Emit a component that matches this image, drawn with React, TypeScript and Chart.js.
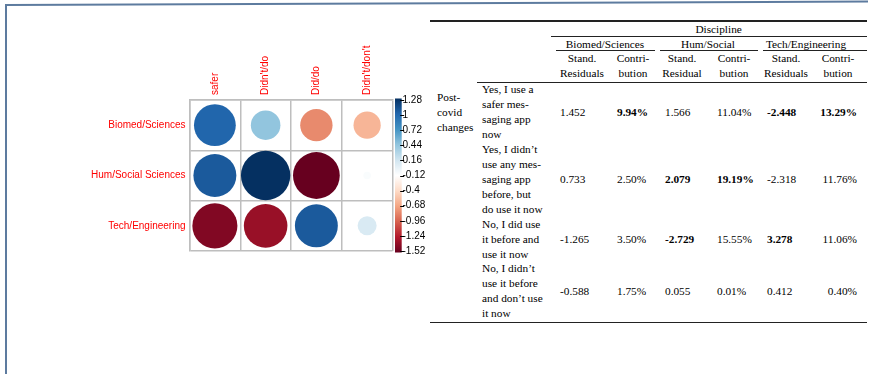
import React, { useEffect, useRef } from 'react';
import { Chart, registerables } from 'chart.js';
Chart.register(...registerables);

// ---------- corrplot data (Pearson residuals) ----------
const rowLabels = ['Biomed/Sciences', 'Hum/Social Sciences', 'Tech/Engineering'];
const colLabels = ['safer', "Didn't/do", 'Did/do', "Didn't/don't"];
const biomedResiduals = [0.92, 0.46, -0.55, -0.39];
const humResiduals = [0.97, 1.28, -1.15, 0.03];
const techResiduals = [-1.07, -1.0, 0.97, 0.19];
const colorbarMin = -1.52;
const colorbarMax = 1.28;
const colorbarTicks = [-1.52, -1.24, -0.96, -0.68, -0.4, -0.12, 0.16, 0.44, 0.72, 1, 1.28];

// ---------- table data ----------
const tableTitle = 'Discipline';
const rowGroupLabel = ['Post-', 'covid', 'changes'];
const groupHeaders = ['Biomed/Sciences', 'Hum/Social', 'Tech/Engineering'];
const subHeaders = [
  ['Stand.', 'Residuals'],
  ['Contri-', 'bution'],
  ['Stand.', 'Residual'],
  ['Contri-', 'bution'],
  ['Stand.', 'Residuals'],
  ['Contri-', 'bution'],
];
const answerLines = [
  ['Yes, I use a', 'safer mes-', 'saging app', 'now'],
  ['Yes, I didn’t', 'use any mes-', 'saging app', 'before, but', 'do use it now'],
  ['No, I did use', 'it before and', 'use it now'],
  ['No, I didn’t', 'use it before', 'and don’t use', 'it now'],
];
const stdResBiomed = ['1.452', '0.733', '-1.265', '-0.588'];
const contribBiomed = ['9.94%', '2.50%', '3.50%', '1.75%'];
const stdResHum = ['1.566', '2.079', '-2.729', '0.055'];
const contribHum = ['11.04%', '19.19%', '15.55%', '0.01%'];
const stdResTech = ['-2.448', '-2.318', '3.278', '0.412'];
const contribTech = ['13.29%', '11.76%', '11.06%', '0.40%'];
const boldFlags = [
  [false, true, false, false, true, true],
  [false, false, true, true, false, false],
  [false, false, true, false, true, false],
  [false, false, false, false, false, false],
];

const RDBU = ['#67001F', '#B2182B', '#D6604D', '#F4A582', '#FDDBC7', '#FFFFFF', '#D1E5F0', '#92C5DE', '#4393C3', '#2166AC', '#053061'];

function hexToRgb(h: string) {
  const n = parseInt(h.slice(1), 16);
  return [(n >> 16) & 255, (n >> 8) & 255, n & 255];
}
function paletteAt(t: number) {
  const c = Math.max(0, Math.min(1, t)) * (RDBU.length - 1);
  const i = Math.min(RDBU.length - 2, Math.floor(c));
  const f = c - i;
  const a = hexToRgb(RDBU[i]);
  const b = hexToRgb(RDBU[i + 1]);
  const m = a.map((v, k) => Math.round(v + (b[k] - v) * f));
  return `rgb(${m[0]},${m[1]},${m[2]})`;
}

const allValues = [...biomedResiduals, ...humResiduals, ...techResiduals];
const maxAbs = Math.max(...allValues.map((v) => Math.abs(v)));
const colorScale = Math.abs(Math.min(...allValues));

function colorFor(v: number) {
  const s = Math.max(-1, Math.min(1, v / colorScale));
  return paletteAt((s + 1) / 2);
}

const colorbarPlugin = {
  id: 'colorbar',
  afterDraw(chart: any) {
    const s = chart.scales.y2;
    const ctx = chart.ctx;
    const x0 = s.left + 2.5;
    const w = 6.7;
    const top = s.top - 1.5;
    const bottom = s.bottom + 1.5;
    const g = ctx.createLinearGradient(0, bottom, 0, top);
    RDBU.forEach((c, i) => g.addColorStop(i / (RDBU.length - 1), c));
    ctx.save();
    ctx.fillStyle = g;
    ctx.fillRect(x0, top, w, bottom - top);
    ctx.strokeStyle = '#000';
    ctx.lineWidth = 1;
    s.ticks.forEach((t: any) => {
      const y = Math.round(s.getPixelForValue(t.value)) + 0.5;
      ctx.beginPath();
      ctx.moveTo(x0 + w - 1.5, y);
      ctx.lineTo(x0 + w + 2.5, y);
      ctx.stroke();
    });
    ctx.restore();
  },
};

const SANS = "'Liberation Sans', Arial, sans-serif";
const SERIF = "'Liberation Serif', 'Times New Roman', serif";

function CorrPlot() {
  const ref = useRef<HTMLCanvasElement | null>(null);
  useEffect(() => {
    const rows = [biomedResiduals, humResiduals, techResiduals];
    const points: any[] = [];
    rows.forEach((vals, r) =>
      vals.forEach((v, c) => points.push({ x: colLabels[c], y: rowLabels[r], v }))
    );
    const gridColor = '#BEBEBE';
    const chart = new Chart(ref.current as HTMLCanvasElement, {
      type: 'scatter',
      data: {
        datasets: [
          {
            data: points,
            pointBorderWidth: 0,
            pointBackgroundColor: (ctx: any) => colorFor(ctx.raw ? ctx.raw.v : 0),
            pointRadius: (ctx: any) => {
              const xs = ctx.chart.scales.x;
              const cellW = xs.width / colLabels.length;
              const v = ctx.raw ? ctx.raw.v : 0;
              return cellW * 0.486 * Math.sqrt(Math.abs(v) / maxAbs);
            },
          } as any,
        ],
      },
      options: {
        animation: false,
        responsive: true,
        maintainAspectRatio: false,
        events: [],
        layout: { padding: { top: 0, left: 0, right: 0, bottom: 123 } },
        plugins: { legend: { display: false }, tooltip: { enabled: false } },
        scales: {
          x: {
            type: 'category',
            labels: colLabels,
            position: 'top',
            offset: true,
            grid: { offset: true, color: gridColor, lineWidth: 1.5, drawTicks: false },
            border: { color: gridColor, width: 1.5 },
            ticks: {
              color: '#FF0000',
              font: { family: SANS, size: 10, lineHeight: 0 },
              minRotation: 90,
              maxRotation: 90,
              padding: 5,
              autoSkip: false,
            },
            afterFit: (s: any) => {
              s.height = 100;
            },
          },
          y: {
            type: 'category',
            labels: rowLabels,
            position: 'left',
            offset: true,
            grid: { offset: true, color: gridColor, lineWidth: 1.5, drawTicks: false },
            border: { color: gridColor, width: 1.5 },
            ticks: { color: '#FF0000', font: { family: SANS, size: 10 }, padding: 4, autoSkip: false },
            afterFit: (s: any) => {
              s.width = 189.5;
            },
          },
          y2: {
            type: 'linear',
            position: 'right',
            min: colorbarMin,
            max: colorbarMax,
            grid: { display: false, drawTicks: false },
            border: { display: false },
            ticks: {
              color: '#000',
              font: { family: SANS, size: 10 },
              padding: 10,
              autoSkip: false,
              callback: (v: any) => String(Math.round(Number(v) * 100) / 100),
            },
            afterBuildTicks: (s: any) => {
              s.ticks = colorbarTicks.map((v) => ({ value: v }));
            },
            afterFit: (s: any) => {
              s.width = 37.5;
            },
          },
        } as any,
      },
      plugins: [colorbarPlugin],
    });
    return () => chart.destroy();
  }, []);
  return (
    <div style={{ position: 'absolute', left: 0, top: 0, width: 430, height: 374 }}>
      <canvas ref={ref} />
    </div>
  );
}

function Txt(props: { x: number; y: number; align?: 'left' | 'center' | 'right'; bold?: boolean; children: any }) {
  const { x, y, align = 'left', bold = false, children } = props;
  const w = 200;
  let left = x;
  if (align === 'center') left = x - w / 2;
  if (align === 'right') left = x - w;
  return (
    <div
      style={{
        position: 'absolute',
        left,
        top: y - 8,
        width: w,
        height: 16,
        lineHeight: '16px',
        textAlign: align,
        fontFamily: SERIF,
        fontSize: 11.3,
        fontWeight: bold ? 'bold' : 'normal',
        color: '#000',
        whiteSpace: 'nowrap',
      }}
    >
      {children}
    </div>
  );
}

function Rule(props: { x1: number; x2: number; y: number; h: number }) {
  const { x1, x2, y, h } = props;
  return (
    <div style={{ position: 'absolute', left: x1, top: y - h / 2, width: x2 - x1, height: h, background: '#222' }} />
  );
}

function ResidualTable() {
  const lineY0 = 89.2;
  const pitch = 14.94;
  const subCenters = [582, 633, 682, 734, 786, 838];
  const groupCenters = [605, 708, 806];
  const colX = [560, 617, 665, 717, 767, 857];
  const colAlign: ('left' | 'right')[] = ['left', 'left', 'left', 'left', 'left', 'right'];
  const cols = [stdResBiomed, contribBiomed, stdResHum, contribHum, stdResTech, contribTech];

  const items: any[] = [];
  let line = 0;
  answerLines.forEach((lines, r) => {
    const first = line;
    lines.forEach((t, k) => {
      items.push(
        <Txt key={`a${r}-${k}`} x={482} y={lineY0 + pitch * line}>
          {t}
        </Txt>
      );
      line++;
    });
    const center = lineY0 + pitch * ((first + line - 1) / 2);
    cols.forEach((col, c) => {
      items.push(
        <Txt key={`v${r}-${c}`} x={colX[c]} y={center} align={colAlign[c]} bold={boldFlags[r][c]}>
          {col[r]}
        </Txt>
      );
    });
  });

  return (
    <>
      <Rule x1={430} x2={866.5} y={21} h={1.5} />
      <Txt x={718.6} y={28.6} align="center">
        {tableTitle}
      </Txt>
      <Rule x1={551} x2={866.5} y={36.8} h={1} />
      {groupHeaders.map((g, i) => (
        <Txt key={`g${i}`} x={groupCenters[i]} y={43.6} align="center">
          {g}
        </Txt>
      ))}
      <Rule x1={556} x2={655} y={50.8} h={1} />
      <Rule x1={660} x2={758} y={50.8} h={1} />
      <Rule x1={763} x2={866.5} y={50.8} h={1} />
      {subHeaders.map((s, i) => (
        <React.Fragment key={`s${i}`}>
          <Txt x={subCenters[i]} y={58.4} align="center">
            {s[0]}
          </Txt>
          <Txt x={subCenters[i]} y={72.8} align="center">
            {s[1]}
          </Txt>
        </React.Fragment>
      ))}
      <Rule x1={477} x2={866.5} y={82} h={1} />
      {rowGroupLabel.map((t, i) => (
        <Txt key={`p${i}`} x={437} y={97 + i * pitch}>
          {t}
        </Txt>
      ))}
      {items}
      <Rule x1={430} x2={866.5} y={322.5} h={1.5} />
    </>
  );
}

export default function App() {
  return (
    <div
      style={{
        position: 'absolute',
        left: 0,
        top: 0,
        width: 884,
        height: 374,
        overflow: 'hidden',
        background: '#fff',
      }}
    >
      <svg width={884} height={374} style={{ position: 'absolute', left: 0, top: 0 }}>
        <line x1={6} y1={5} x2={868} y2={1.5} stroke="#5D7B9F" strokeWidth={2} />
        <line x1={6} y1={4} x2={6} y2={374} stroke="#5D7B9F" strokeWidth={2} />
      </svg>
      <CorrPlot />
      <ResidualTable />
    </div>
  );
}
